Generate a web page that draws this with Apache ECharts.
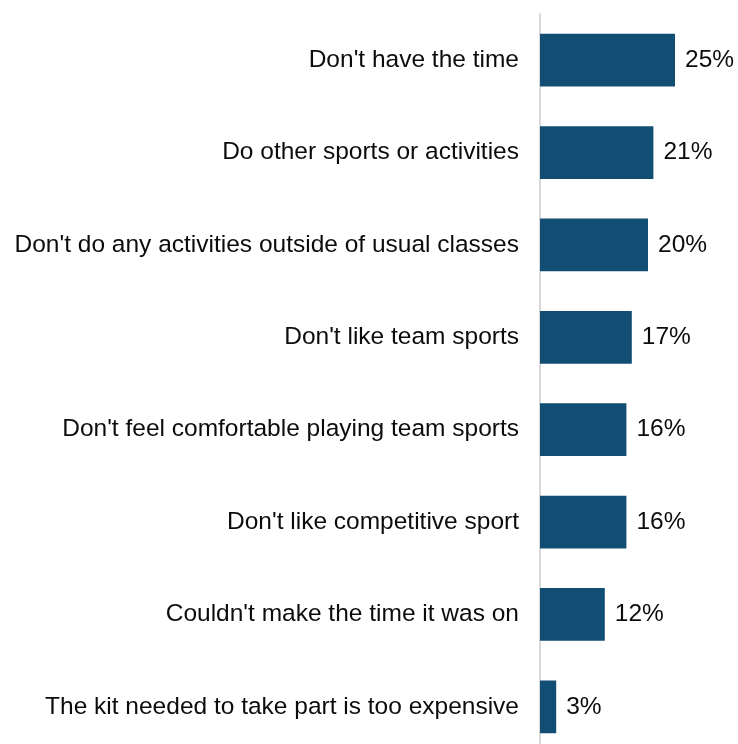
<!DOCTYPE html>
<html>
<head>
<meta charset="utf-8">
<script src="https://cdn.jsdelivr.net/npm/echarts@6/dist/echarts.min.js"></script>
<style>
  html, body { margin: 0; padding: 0; background: #ffffff; overflow: hidden; }
  /* the plot runs a little past the bottom edge of the window */
  #chart { width: 738px; height: 760px; }
</style>
</head>
<body>
<div id="chart"></div>
<script>
// Reasons for not taking part, share of respondents (%)
const categories = [
  "Don't have the time",
  "Do other sports or activities",
  "Don't do any activities outside of usual classes",
  "Don't like team sports",
  "Don't feel comfortable playing team sports",
  "Don't like competitive sport",
  "Couldn't make the time it was on",
  "The kit needed to take part is too expensive"
];
const values = [25, 21, 20, 17, 16, 16, 12, 3];

const chart = echarts.init(document.getElementById('chart'), null, { renderer: 'canvas' });

chart.setOption({
  animation: false,
  backgroundColor: '#ffffff',
  textStyle: { fontFamily: 'Liberation Sans, Arial, sans-serif' },
  grid: { left: 540, width: 162, top: 14, height: 739, containLabel: false },
  xAxis: {
    type: 'value',
    min: 0,
    max: 30,
    show: false
  },
  yAxis: {
    type: 'category',
    data: categories,
    inverse: true,
    axisLine: { show: true, lineStyle: { color: '#d9d9d9', width: 2 } },
    axisTick: { show: false },
    axisLabel: {
      color: '#0b0c0c',
      fontSize: 24.5,
      margin: 21,
      fontFamily: 'Liberation Sans, Arial, sans-serif'
    },
    splitLine: { show: false }
  },
  series: [{
    type: 'bar',
    data: values,
    barWidth: '57%',
    itemStyle: { color: '#124e73' },
    label: {
      show: true,
      position: 'right',
      distance: 10,
      formatter: p => p.value + '%',
      color: '#0b0c0c',
      fontSize: 24.5,
      fontFamily: 'Liberation Sans, Arial, sans-serif'
    }
  }]
});
</script>
</body>
</html>
